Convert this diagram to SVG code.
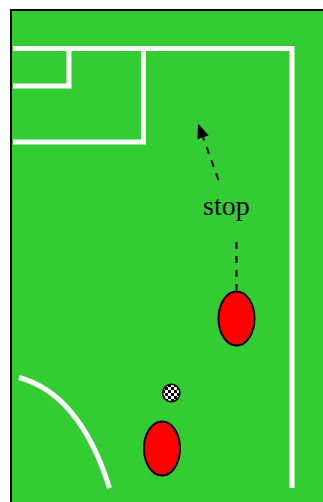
<svg xmlns="http://www.w3.org/2000/svg" width="323" height="502" viewBox="0 0 323 502">
<style>
.line{fill:none;stroke:#ffffff;stroke-width:5}
.player{fill:#ff0000;stroke:#000000;stroke-width:2}
.dash{fill:none;stroke:#000000;stroke-width:2;stroke-dasharray:7,7}
.label{font-family:"Liberation Serif","Times New Roman",serif;font-size:28px;fill:#000000}
</style>
<defs>
<marker id="arrow" markerWidth="15" markerHeight="12" refX="0" refY="6" orient="auto" markerUnits="userSpaceOnUse" viewBox="0 0 15 12">
<path d="M0,0 L15,6 L0,12 Z" fill="#000000"/>
</marker>
<pattern id="checks" x="0" y="0" width="6" height="6" patternUnits="userSpaceOnUse">
<rect width="6" height="6" fill="#ffffff"/>
<rect width="3" height="3" fill="#000000"/>
<rect x="3" y="3" width="3" height="3" fill="#000000"/>
</pattern>
</defs>
<g id="field">
<rect x="11" y="10" width="330" height="510" fill="#33cc33" stroke="#000000" stroke-width="2"/>
<path class="line" d="M13,48.5 H292 V488"/>
<path class="line" d="M13,86 H69 V48.5"/>
<path class="line" d="M13,142 H143.5 V48.5"/>
<path class="line" d="M19,377.5 Q80,394 109.5,488"/>
</g>
<g id="connectors">
<line class="dash" x1="236.5" y1="242" x2="236.5" y2="290"/>
<line class="dash" x1="218.5" y1="180" x2="203.1" y2="137.5" marker-end="url(#arrow)"/>
</g>
<g id="label-stop">
<text class="label" x="203" y="215">stop</text>
</g>
<g id="player1">
<ellipse class="player" cx="236.5" cy="318.5" rx="18" ry="27"/>
</g>
<g id="player2">
<ellipse class="player" cx="162" cy="448.5" rx="18" ry="27"/>
</g>
<g id="ball">
<circle cx="171.3" cy="393" r="8.7" fill="url(#checks)" stroke="#000000" stroke-width="1.5"/>
</g>
</svg>
